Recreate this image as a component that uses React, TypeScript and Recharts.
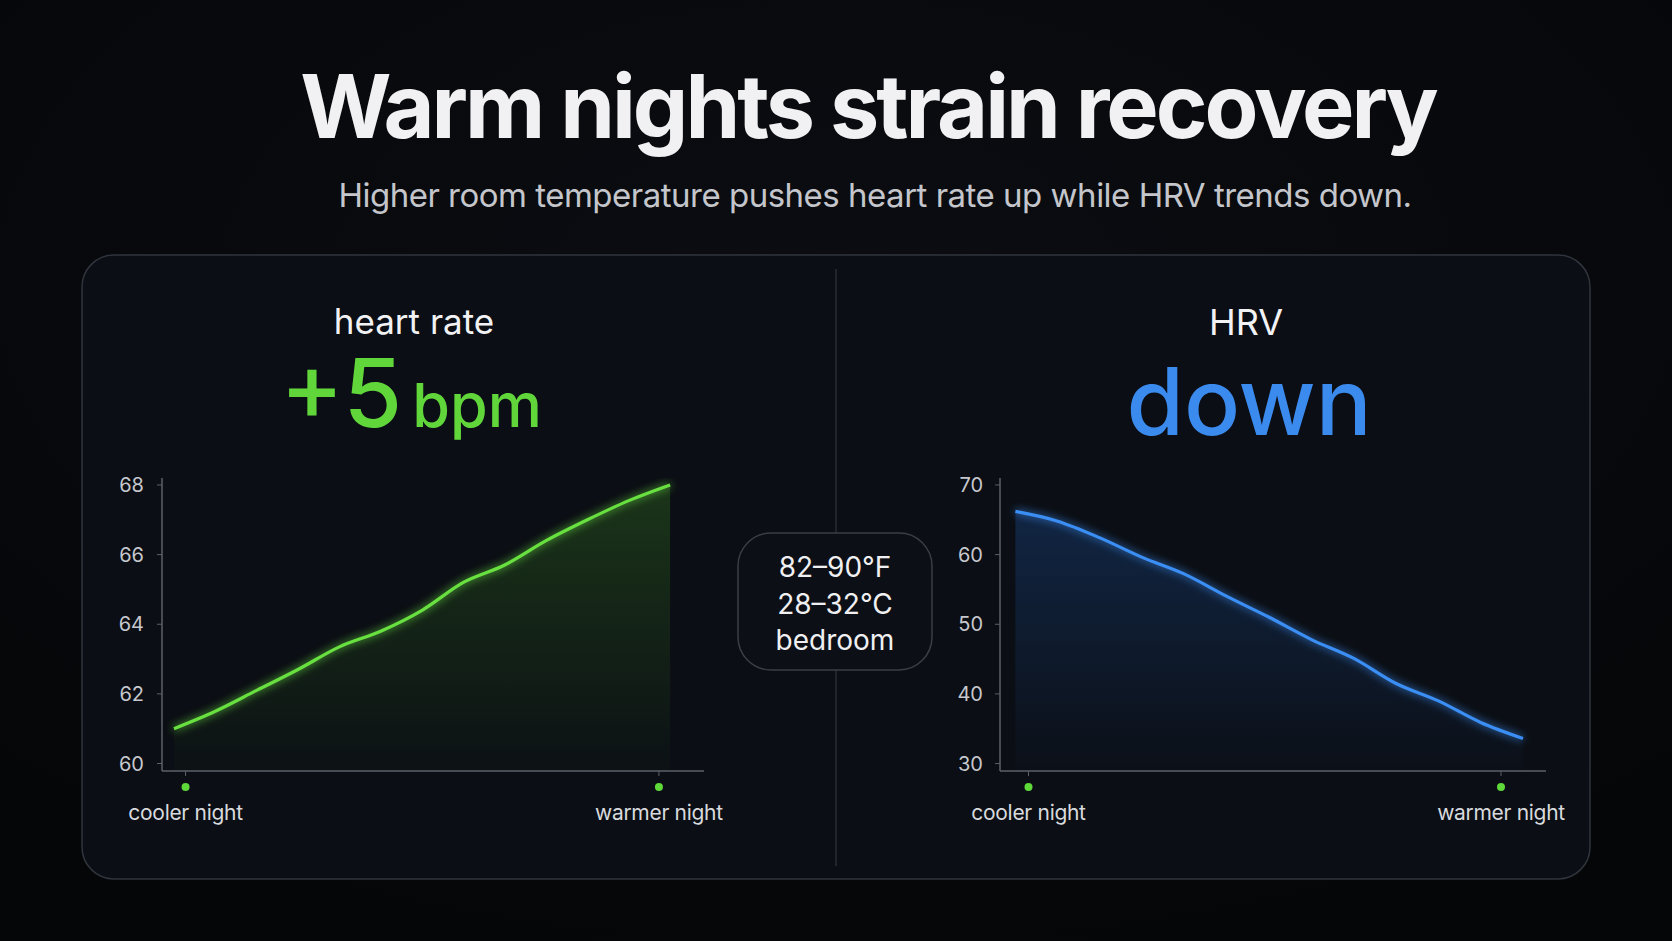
import React from 'react';
import { ComposedChart, Area, Line, XAxis, YAxis } from 'recharts';

// night index from cooler to warmer room temperature
const nights = [0, 1, 2, 3, 4, 5, 6, 7, 8, 9, 10, 11, 12];
const heartRate = [61.0, 61.5, 62.1, 62.7, 63.35, 63.8, 64.4, 65.2, 65.7, 66.4, 67.0, 67.55, 68.0];
const hrv = [66.2, 64.8, 62.4, 59.6, 57.2, 54.0, 51.0, 47.8, 45.1, 41.5, 39.0, 35.9, 33.6];

const hrTicks = [60, 62, 64, 66, 68];
const hrvTicks = [30, 40, 50, 60, 70];
const nightLabels = ['cooler night', 'warmer night'];
const tempLines = ['82–90°F', '28–32°C', 'bedroom'];

const FONT = 'Inter, "Noto Sans", Roboto, sans-serif';
const GREEN = '#68e041';
const BLUE = '#3a8ef4';
const AXIS = '#5c6069';

const hrData = nights.map((n, i) => ({ night: n, value: heartRate[i] }));
const hrvData = nights.map((n, i) => ({ night: n, value: hrv[i] }));

function NightTick(props: any) {
  const { x, y, index } = props;
  return (
    <g>
      <circle cx={x} cy={y + 9} r={4} fill="#5fd83a" />
      <text
        x={x}
        y={y + 42}
        textAnchor="middle"
        fill="#d8dade"
        fontSize={21}
        letterSpacing={-0.3}
        fontFamily={FONT}
      >
        {nightLabels[index]}
      </text>
    </g>
  );
}

interface PanelChartProps {
  id: string;
  data: Array<{ night: number; value: number }>;
  color: string;
  fillColor: string;
  yDomain: [number, number];
  yTicks: number[];
  xDomain: [number, number];
  xTicks: number[];
  width: number;
  marginLeft: number;
  marginRight: number;
  tickMargin: number;
}

function PanelChart({
  id,
  data,
  color,
  fillColor,
  yDomain,
  yTicks,
  xDomain,
  xTicks,
  width,
  marginLeft,
  marginRight,
  tickMargin,
}: PanelChartProps) {
  return (
    <ComposedChart
      width={width}
      height={410}
      data={data}
      margin={{ top: 38, right: marginRight, bottom: 0, left: marginLeft }}
    >
      <defs>
        <linearGradient id={`fill-${id}`} x1="0" y1="0" x2="0" y2="1">
          <stop offset="0%" stopColor={fillColor} stopOpacity={0.5} />
          <stop offset="100%" stopColor={fillColor} stopOpacity={0.04} />
        </linearGradient>
        <filter id={`glow-${id}`} filterUnits="userSpaceOnUse" x={-100} y={-100} width={1000} height={700}>
          <feGaussianBlur stdDeviation={4} result="blur" />
          <feMerge>
            <feMergeNode in="blur" />
            <feMergeNode in="SourceGraphic" />
          </feMerge>
        </filter>
      </defs>
      <XAxis
        type="number"
        dataKey="night"
        domain={xDomain}
        ticks={xTicks}
        interval={0}
        height={79}
        tickSize={5}
        axisLine={{ stroke: AXIS, strokeWidth: 1.5 }}
        tickLine={{ stroke: AXIS }}
        tick={<NightTick />}
      />
      <YAxis
        type="number"
        domain={yDomain}
        ticks={yTicks}
        allowDataOverflow
        width={60}
        tickSize={5}
        tickMargin={tickMargin}
        axisLine={{ stroke: AXIS, strokeWidth: 1.5 }}
        tickLine={{ stroke: AXIS }}
        tick={{ fill: '#c6c8ce', fontSize: 20, fontFamily: FONT }}
      />
      <Area
        type="monotone"
        dataKey="value"
        stroke="none"
        fill={`url(#fill-${id})`}
        isAnimationActive={false}
      />
      <Line
        type="monotone"
        dataKey="value"
        stroke={color}
        strokeWidth={3.2}
        dot={false}
        activeDot={false}
        filter={`url(#glow-${id})`}
        isAnimationActive={false}
      />
    </ComposedChart>
  );
}

export default function App() {
  return (
    <div
      style={{
        position: 'absolute',
        left: 0,
        top: 0,
        width: 1672,
        height: 941,
        overflow: 'hidden',
        background: '#07080c',
        fontFamily: FONT,
      }}
    >
      <svg width={1672} height={941} style={{ position: 'absolute', left: 0, top: 0 }}>
        <defs>
          <radialGradient id="bg" cx="50%" cy="30%" r="75%">
            <stop offset="0%" stopColor="#0b0d12" />
            <stop offset="100%" stopColor="#050608" />
          </radialGradient>
        </defs>
        <rect x={0} y={0} width={1672} height={941} fill="url(#bg)" />

        <text
          x={868}
          y={138}
          textAnchor="middle"
          fill="#f1f1f3"
          fontSize={88}
          fontWeight={700}
          letterSpacing={-3}
          fontFamily={FONT}
        >
          Warm nights strain recovery
        </text>
        <text
          x={875}
          y={207}
          textAnchor="middle"
          fill="#c4c6cb"
          fontSize={33}
          fontWeight={400}
          letterSpacing={-0.5}
          fontFamily={FONT}
        >
          Higher room temperature pushes heart rate up while HRV trends down.
        </text>

        <rect x={82} y={255} width={1508} height={624} rx={32} fill="#0b0e14" stroke="#30343c" strokeWidth={1.5} />
        <line x1={836} y1={269} x2={836} y2={866} stroke="#2a2d34" strokeWidth={1.5} />

        <text x={414} y={334} textAnchor="middle" fill="#f2f2f4" fontSize={35} fontFamily={FONT}>
          heart rate
        </text>
        <text x={411} y={427} textAnchor="middle" fill="#60d63b" fontFamily={FONT} fontWeight={500}>
          <tspan fontSize={95}>+5</tspan>
          <tspan fontSize={61} dx={10}>bpm</tspan>
        </text>

        <text x={1246} y={335} textAnchor="middle" fill="#f2f2f4" fontSize={36} fontFamily={FONT}>
          HRV
        </text>
        <text x={1249} y={435} textAnchor="middle" fill="#3b8bef" fontSize={93} fontWeight={500} fontFamily={FONT}>
          down
        </text>

        <rect x={738} y={533} width={194} height={137} rx={33} fill="#0c0f15" stroke="#3a3e46" strokeWidth={1.5} />
        {tempLines.map((t, i) => (
          <text
            key={t}
            x={835}
            y={577 + i * 36.5}
            textAnchor="middle"
            fill="#f0f0f2"
            fontSize={28}
            fontFamily={FONT}
          >
            {t}
          </text>
        ))}
      </svg>

      <div style={{ position: 'absolute', left: 82, top: 440 }}>
        <PanelChart
          id="hr"
          data={hrData}
          color={GREEN}
          fillColor="#3f8f25"
          yDomain={[59.785, 68.2]}
          yTicks={hrTicks}
          xDomain={[-0.29, 12.82]}
          xTicks={[0.28, 11.73]}
          width={650}
          marginLeft={20}
          marginRight={28}
          tickMargin={13}
        />
      </div>

      <div style={{ position: 'absolute', left: 900, top: 440 }}>
        <PanelChart
          id="hrv"
          data={hrvData}
          color={BLUE}
          fillColor="#1f5bb0"
          yDomain={[28.93, 71]}
          yTicks={hrvTicks}
          xDomain={[-0.364, 12.544]}
          xTicks={[0.31, 11.48]}
          width={700}
          marginLeft={40}
          marginRight={54}
          tickMargin={12}
        />
      </div>
    </div>
  );
}
